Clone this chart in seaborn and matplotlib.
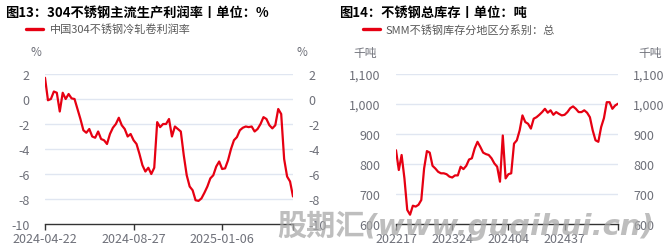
import matplotlib
matplotlib.use("Agg")
import matplotlib.pyplot as plt
import seaborn as sns
import pandas as pd
import numpy as np

# ---------------- data ----------------
profit_title = "图13：304不锈钢主流生产利润率丨单位：%"
profit_series = "中国304不锈钢冷轧卷利润率"
profit_ticklabels = ["2024-04-22", "2024-08-27", "2025-01-06"]
profit_values = [
    1.7, -0.1, 0.0, 0.6, 0.5, -1.0, 0.5, 0.0, 0.4, 0.05,
    0.0, -0.8, -1.6, -2.5, -2.7, -2.4, -3.0, -3.1, -2.6, -3.2,
    -3.3, -3.6, -2.8, -2.3, -2.0, -1.5, -2.1, -2.4, -3.0, -2.8,
    -3.3, -3.6, -4.4, -5.3, -5.8, -5.5, -6.0, -5.5, -1.85, -2.25,
    -2.0, -2.0, -1.6, -3.0, -2.2, -2.4, -2.6, -4.5, -6.1, -7.0,
    -7.3, -8.1, -8.15, -7.95, -7.5, -7.0, -6.35, -6.1, -5.4, -5.0,
    -5.6, -5.55, -4.9, -4.0, -3.3, -3.05, -2.5, -2.3, -2.2, -2.25,
    -2.2, -2.6, -2.4, -2.0, -1.45, -1.6, -2.1, -2.35, -2.1, -0.8,
    -1.2, -4.8, -6.2, -6.6, -7.8,
]
profit_yticks = [2, 0, -2, -4, -6, -8, -10]

stock_title = "图14：不锈钢总库存丨单位：吨"
stock_series = "SMM不锈钢库存分地区分系别：总"
stock_ticklabels = ["202217", "202324", "202404", "202437"]
stock_values = [
    846, 780, 830, 752, 647, 631, 661, 658, 664, 680,
    785, 843, 838, 794, 785, 774, 769, 769, 766, 758,
    755, 762, 762, 791, 783, 794, 815, 819, 852, 874,
    857, 838, 833, 830, 819, 802, 791, 741, 895, 752,
    766, 769, 868, 879, 912, 962, 940, 934, 918, 951,
    956, 964, 973, 984, 971, 979, 964, 973, 967, 962,
    964, 973, 986, 992, 984, 973, 973, 979, 971, 956,
    912, 879, 874, 923, 953, 1006, 1006, 984, 995, 1001,
]
stock_yticks = [1100, 1000, 900, 800, 700, 600]

watermark = "股期汇(www.guqihui.cn)"

# ---------------- style ----------------
sns.set_theme(style="white")
plt.rcParams["font.family"] = ["Noto Sans CJK SC", "DejaVu Sans"]

RED = "#e60012"
GRID = "#e0e6f1"
TICK = "#6e7079"

W, H = 668.0, 251.0
fig = plt.figure(figsize=(W / 100, H / 100), dpi=100)


def draw(ax, values, ticklabels, per_tick, yticks, ylim, fmt):
    df = pd.DataFrame({"x": np.arange(len(values)), "y": values})
    sns.lineplot(data=df, x="x", y="y", ax=ax, color=RED, linewidth=1.6, zorder=3)
    n = len(values) - 1
    ax.set_xlim(0, n)
    ax.set_ylim(*ylim)
    ax.set_yticks(yticks)
    ax.set_yticklabels([fmt(v) for v in yticks])
    pos = [per_tick * i for i in range(len(ticklabels))]
    ax.set_xticks(pos + [n])
    ax.set_xticklabels(ticklabels + [""])
    ax.set_xlabel("")
    ax.set_ylabel("")
    for v in yticks:
        if v != ylim[0]:
            ax.axhline(v, color=GRID, linewidth=1.0, zorder=1)
    for s in ["top", "left", "right"]:
        ax.spines[s].set_visible(False)
    ax.spines["bottom"].set_color("#333333")
    ax.spines["bottom"].set_linewidth(1.0)
    ax.tick_params(axis="x", which="both", bottom=True, length=4, width=1.0,
                   color="#333333", labelsize=9, labelcolor=TICK, pad=2)
    ax.tick_params(axis="y", left=False, right=False, labelleft=True,
                   labelright=True, labelsize=9, labelcolor=TICK, pad=5)
    ax.grid(False)


# left panel
ax1 = fig.add_axes([45 / W, 1 - 225 / H, 248 / W, 150 / H])
draw(ax1, profit_values, profit_ticklabels, 30, profit_yticks, (-10, 2),
     lambda v: f"{v:d}")

# right panel
ax2 = fig.add_axes([396 / W, 1 - 225 / H, 222 / W, 150 / H])
draw(ax2, stock_values, stock_ticklabels, 20, stock_yticks, (600, 1100),
     lambda v: f"{v:,d}")

# titles
fig.text(5 / W, 1 - 13 / H, profit_title, fontsize=9.5, fontweight="bold",
         color="#000000", va="center", ha="left")
fig.text(339 / W, 1 - 13 / H, stock_title, fontsize=9.5, fontweight="bold",
         color="#000000", va="center", ha="left")

# legends
fig.add_artist(plt.Line2D([26 / W, 43 / W], [1 - 30 / H, 1 - 30 / H], color=RED, linewidth=2.4))
fig.text(50 / W, 1 - 30 / H, profit_series, fontsize=8, color="#595959", va="center", ha="left")
fig.add_artist(plt.Line2D([363 / W, 380 / W], [1 - 30 / H, 1 - 30 / H], color=RED, linewidth=2.4))
fig.text(386 / W, 1 - 30 / H, stock_series, fontsize=8, color="#595959", va="center", ha="left")

# units
fig.text(36 / W, 1 - 53 / H, "%", fontsize=8.5, color=TICK, va="center", ha="center")
fig.text(302 / W, 1 - 53 / H, "%", fontsize=8.5, color=TICK, va="center", ha="center")
fig.text(365 / W, 1 - 53 / H, "千吨", fontsize=8.5, color=TICK, va="center", ha="center")
fig.text(650 / W, 1 - 53 / H, "千吨", fontsize=8.5, color=TICK, va="center", ha="center")

# watermark
fig.text(466 / W, 1 - 226 / H, watermark, fontsize=21, fontweight="bold",
         style="italic", color="#a8a8a8", alpha=0.75, va="center", ha="center",
         family=["DejaVu Sans", "Noto Sans CJK SC"], zorder=10)

fig.savefig("out.png", dpi=100)
